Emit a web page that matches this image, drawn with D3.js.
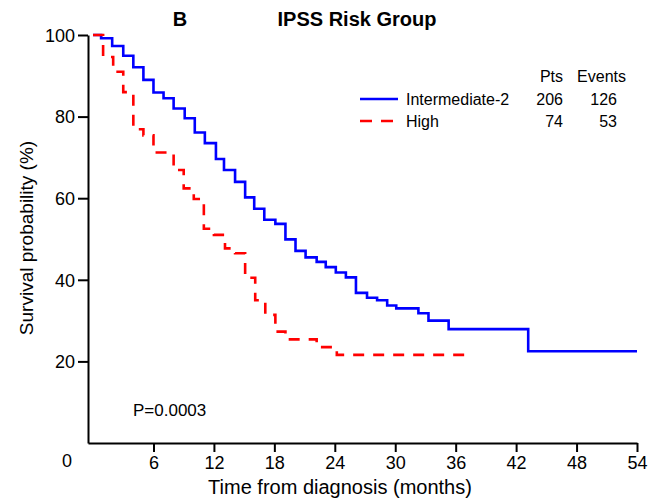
<!DOCTYPE html>
<html>
<head>
<meta charset="utf-8">
<script src="https://cdn.jsdelivr.net/npm/d3@7"></script>
<style>
  body { margin: 0; background: #fff; }
  svg { font-family: "Liberation Sans", Arial, sans-serif; }
  .axis path, .axis line { stroke: #000; stroke-width: 2px; }
  .axis text { font-size: 18px; fill: #000; }
</style>
</head>
<body>
<svg id="km" width="648" height="498"></svg>
<script>
// Kaplan-Meier steps (months, survival %)
const int2Times = [0, 0.8, 1.9, 3.0, 4.0, 5.0, 6.0, 7.0, 8.0, 9.1, 10.1, 11.1, 12.2, 13.0, 14.1, 15.1, 16.0, 17.0, 18.1, 19.1, 20.1, 21.1, 22.2, 23.1, 24.1, 25.1, 26.1, 27.2, 28.2, 29.2, 30.1, 32.3, 33.3, 35.3, 43.2, 54.0];
const int2Surv  = [100, 99.2, 97.3, 94.9, 92.1, 89.0, 85.9, 84.5, 82.0, 79.6, 76.1, 73.5, 69.6, 66.9, 64.0, 60.2, 57.4, 54.7, 53.7, 49.9, 47.1, 45.5, 44.4, 43.1, 41.8, 40.6, 36.8, 35.6, 35.0, 33.7, 33.0, 31.8, 30.0, 27.9, 22.5, 22.5];

const highTimes = [0, 1.0, 2.0, 3.0, 4.0, 5.0, 6.0, 8.0, 9.0, 10.0, 11.0, 12.0, 13.1, 14.1, 15.1, 16.1, 17.1, 18.1, 19.1, 22.2, 24.2, 37.4];
const highSurv  = [100, 94.6, 91.0, 86.0, 76.9, 75.4, 71.2, 66.9, 62.4, 59.8, 52.5, 51.0, 47.7, 46.5, 40.5, 35.0, 31.4, 27.3, 25.4, 23.5, 21.6, 21.6];

const groups  = ["Intermediate-2", "High"];
const pts     = [206, 74];
const events  = [126, 53];
const colors  = ["#0000ff", "#ff0000"];

const xTicks = [6, 12, 18, 24, 30, 36, 42, 48, 54];
const yTicks = [20, 40, 60, 80, 100];

const svg = d3.select("#km");

const x = d3.scaleLinear().domain([-0.5, 54]).range([88, 637]);
const y = d3.scaleLinear().domain([0, 100]).range([443, 35]);

// axes
svg.append("g")
  .attr("class", "axis")
  .attr("transform", `translate(0,${y(0)})`)
  .call(d3.axisBottom(x).tickValues(xTicks).tickSize(9).tickSizeOuter(0).tickPadding(4));

svg.append("g")
  .attr("class", "axis")
  .attr("transform", `translate(${x(-0.5)},0)`)
  .call(d3.axisLeft(y).tickValues(yTicks).tickSize(10).tickSizeOuter(0).tickPadding(3));

svg.selectAll(".axis .tick text").attr("dy", null);
svg.selectAll(".axis").filter((d, i) => i === 1).selectAll(".tick text").attr("dy", "0.35em");
svg.selectAll(".axis").filter((d, i) => i === 0).selectAll(".tick text").attr("dy", "0.71em");

// lone origin label
svg.append("text")
  .attr("x", x(0) - 26)
  .attr("y", y(0) + 24)
  .attr("text-anchor", "middle")
  .style("font-size", "18px")
  .text("0");

// curves
const line = d3.line()
  .x(d => x(d[0]))
  .y(d => y(d[1]))
  .curve(d3.curveStepAfter);

const int2 = int2Times.map((t, i) => [t, int2Surv[i]]);
const high = highTimes.map((t, i) => [t, highSurv[i]]);

svg.append("path")
  .attr("d", line(int2))
  .attr("fill", "none")
  .attr("stroke", colors[0])
  .attr("stroke-width", 2.6);

svg.append("path")
  .attr("d", line(high))
  .attr("fill", "none")
  .attr("stroke", colors[1])
  .attr("stroke-width", 2.6)
  .attr("stroke-dasharray", "11,9");

// titles
svg.append("text")
  .attr("x", 180).attr("y", 26)
  .attr("text-anchor", "middle")
  .style("font-size", "20px").style("font-weight", "bold")
  .text("B");

svg.append("text")
  .attr("x", 357).attr("y", 26)
  .attr("text-anchor", "middle")
  .style("font-size", "20px").style("font-weight", "bold")
  .text("IPSS Risk Group");

svg.append("text")
  .attr("x", 340).attr("y", 494)
  .attr("text-anchor", "middle")
  .style("font-size", "20px")
  .text("Time from diagnosis (months)");

svg.append("text")
  .attr("transform", "translate(33,238) rotate(-90)")
  .attr("text-anchor", "middle")
  .style("font-size", "19px")
  .text("Survival probability (%)");

svg.append("text")
  .attr("x", 133).attr("y", 416)
  .style("font-size", "17px")
  .text("P=0.0003");

// legend
const legend = svg.append("g").style("font-size", "16px");

legend.append("text").attr("x", 563).attr("y", 82).attr("text-anchor", "end").text("Pts");
legend.append("text").attr("x", 626).attr("y", 82).attr("text-anchor", "end").text("Events");

const rows = legend.selectAll(".row")
  .data(groups)
  .enter()
  .append("g")
  .attr("class", "row")
  .attr("transform", (d, i) => `translate(0,${105 + i * 22})`);

rows.append("line")
  .attr("x1", 360).attr("x2", 398)
  .attr("y1", -6).attr("y2", -6)
  .attr("stroke", (d, i) => colors[i])
  .attr("stroke-width", 2.6)
  .attr("stroke-dasharray", (d, i) => i === 1 ? "12,9" : null);

rows.append("text").attr("x", 406).text(d => d);
rows.append("text").attr("x", 563).attr("text-anchor", "end").text((d, i) => pts[i]);
rows.append("text").attr("x", 617).attr("text-anchor", "end").text((d, i) => events[i]);
</script>
</body>
</html>
